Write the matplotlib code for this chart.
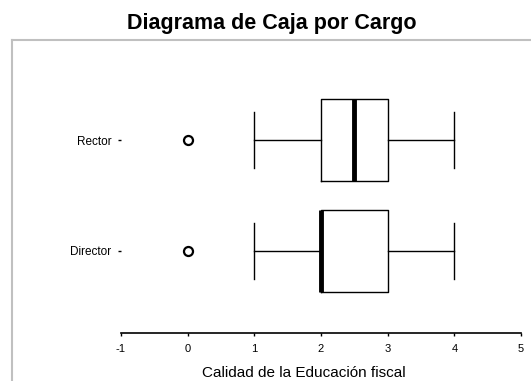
import matplotlib.pyplot as plt
from matplotlib.lines import Line2D

plt.rcParams['font.family'] = ['Liberation Sans', 'DejaVu Sans']
plt.rcParams['axes.unicode_minus'] = False

cargos = ["Director", "Rector"]
minimos = [1, 1]
q1 = [2, 2]
medianas = [2, 2.5]
q3 = [3, 3]
maximos = [4, 4]
atipicos = [[0], [0]]

stats = []
for i, cargo in enumerate(cargos):
    stats.append({
        "label": cargo,
        "whislo": minimos[i],
        "q1": q1[i],
        "med": medianas[i],
        "q3": q3[i],
        "whishi": maximos[i],
        "fliers": atipicos[i],
    })

fig = plt.figure(figsize=(5.31, 3.81), dpi=100)
ax = fig.add_axes([121 / 531, 1 - 333 / 381, 400 / 531, 275 / 381])

ax.bxp(
    stats,
    orientation="horizontal",
    widths=0.74,
    capwidths=0.5,
    boxprops=dict(color="black", linewidth=1),
    whiskerprops=dict(color="black", linewidth=1),
    capprops=dict(color="black", linewidth=1),
    medianprops=dict(color="black", linewidth=3.5, solid_capstyle="butt"),
    flierprops=dict(marker="o", markerfacecolor="white", markeredgecolor="black",
                    markeredgewidth=1.6, markersize=6.5),
)

ax.set_xlim(-1, 5)
ax.set_ylim(0.26, 2.74)
ax.set_xticks([-1, 0, 1, 2, 3, 4, 5])
ax.tick_params(axis="x", length=2, width=1, labelsize=8, pad=6)
ax.tick_params(axis="y", length=2, width=1, labelsize=8.5, pad=5)

for side in ["left", "top", "right"]:
    ax.spines[side].set_visible(False)
ax.spines["bottom"].set_linewidth(1.2)

fig.text(272 / 531, 1 - 24 / 381, "Diagrama de Caja por Cargo",
         ha="center", va="center", fontsize=15.5, fontweight="bold")
fig.text(304 / 531, 1 - 373 / 381, "Calidad de la Educación fiscal",
         ha="center", va="center", fontsize=11)

# marco gris del gráfico
fig.add_artist(Line2D([12 / 531, 12 / 531], [0, 1 - 40 / 381],
                      transform=fig.transFigure, color="#c0c0c0", linewidth=1.5))
fig.add_artist(Line2D([12 / 531, 1], [1 - 40 / 381, 1 - 40 / 381],
                      transform=fig.transFigure, color="#c0c0c0", linewidth=1.5))

fig.savefig("out.png", dpi=100)
